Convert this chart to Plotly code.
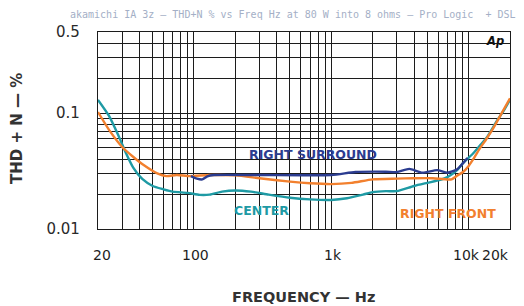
import numpy as np
import plotly.graph_objects as go

# ---------------- data ----------------
center_f = [20, 24, 28, 32, 36, 42, 50, 60, 70, 90, 110, 130, 160, 200, 260, 350, 500, 700,
            1000, 1300, 1700, 2000, 2500, 3000, 4000, 5000, 6200, 7000, 8200, 9100, 10800,
            12000, 13600, 16000, 18000, 20000]
center_v = [0.13, 0.095, 0.065, 0.045, 0.034, 0.027, 0.0235, 0.022, 0.021, 0.0205, 0.0197,
            0.0198, 0.021, 0.0215, 0.021, 0.0198, 0.0186, 0.018, 0.0178, 0.0184, 0.0198,
            0.0208, 0.0212, 0.0212, 0.0235, 0.025, 0.0265, 0.028, 0.032, 0.037, 0.045,
            0.052, 0.062, 0.085, 0.105, 0.13]

front_f = [20, 24, 30, 36, 43, 54, 63, 75, 93, 130, 200, 300, 500, 700, 1000, 1400, 2000,
           3000, 4000, 5500, 7500, 8300, 9100, 10000, 10800, 12000, 13500, 15000, 17000, 20000]
front_v = [0.102, 0.072, 0.051, 0.042, 0.0356, 0.0302, 0.0286, 0.0292, 0.0286, 0.0292,
           0.029, 0.0274, 0.0256, 0.0248, 0.0244, 0.025, 0.0268, 0.0272, 0.0274, 0.0274,
           0.0268, 0.029, 0.031, 0.035, 0.040, 0.049, 0.060, 0.073, 0.095, 0.134]

surround_f = [95, 105, 115, 125, 140, 300, 1000, 1500, 2500, 3000, 3700, 4600, 5900, 7000,
              8200, 9100, 9800]
surround_v = [0.0286, 0.0272, 0.0268, 0.0285, 0.0292, 0.0292, 0.0292, 0.031, 0.0312, 0.031,
              0.033, 0.0306, 0.0322, 0.0306, 0.0326, 0.037, 0.041]

x_grid = [20, 30, 40, 50, 60, 70, 80, 90, 100, 200, 300, 400, 500, 600, 700, 800, 900,
          1000, 2000, 3000, 4000, 5000, 6000, 7000, 8000, 9000, 10000, 20000]
x_label_vals = [20, 100, 1000, 10000, 20000]
x_label_text = ["20", "100", "1k", "10k", "20k"]

y_grid = [0.01, 0.02, 0.03, 0.04, 0.05, 0.06, 0.07, 0.08, 0.09, 0.1, 0.2, 0.3, 0.4, 0.5]
y_label_vals = [0.01, 0.1, 0.5]
y_label_text = ["0.01", "0.1", "0.5"]

series_names = ["RIGHT SURROUND", "CENTER", "RIGHT FRONT"]

title_text = "akamichi IA 3z \u2014 THD+N % vs Freq Hz at 80 W into 8 ohms \u2014 Pro Logic  + DSL"
x_title = "FREQUENCY \u2014 Hz"
y_title = "THD + N \u2014 %"

# ---------------- style ----------------
W, H = 524, 306
L, R, T, B = 98, 14, 32, 77
PW, PH = W - L - R, H - T - B
BLUE = "#2b3c90"
TEAL = "#1e9aa4"
ORANGE = "#f2802e"
GRID = "#1c1c1c"
FONT = "DejaVu Sans"


def px(xp):
    return (xp - L) / PW


def py(yp):
    return (H - B - yp) / PH


def label(xp, yp, text, size, color, bold=False, angle=0, family=FONT):
    fig.add_annotation(x=px(xp), y=py(yp), xref="paper", yref="paper",
                       xanchor="center", yanchor="middle",
                       text=("<b>%s</b>" % text) if bold else text, textangle=angle,
                       showarrow=False, font=dict(family=family, size=size, color=color))


fig = go.Figure()
fig.add_trace(go.Scatter(x=center_f, y=center_v, mode="lines", name=series_names[1],
                         line=dict(color=TEAL, width=2.4, shape="spline", smoothing=0.6)))
fig.add_trace(go.Scatter(x=front_f, y=front_v, mode="lines", name=series_names[2],
                         line=dict(color=ORANGE, width=2.4, shape="spline", smoothing=0.6)))
fig.add_trace(go.Scatter(x=surround_f, y=surround_v, mode="lines", name=series_names[0],
                         line=dict(color=BLUE, width=2.4, shape="spline", smoothing=0.6)))

x_ticktext = [""] * len(x_grid)
y_ticktext = [y_label_text[y_label_vals.index(v)] if v in y_label_vals else "" for v in y_grid]

fig.update_layout(
    width=W, height=H,
    margin=dict(l=L, r=R, t=T, b=B),
    paper_bgcolor="white", plot_bgcolor="white",
    showlegend=False,
    xaxis=dict(type="log", range=[np.log10(20), np.log10(20000)],
               tickvals=x_grid, ticktext=x_ticktext, showgrid=True,
               gridcolor=GRID, gridwidth=1.4, zeroline=False,
               showline=True, linecolor=GRID, linewidth=1.4, mirror=True, ticks=""),
    yaxis=dict(type="log", range=[np.log10(0.01), np.log10(0.5)],
               tickvals=y_grid, ticktext=y_ticktext, showgrid=True,
               gridcolor=GRID, gridwidth=1.4, zeroline=False,
               showline=True, linecolor=GRID, linewidth=1.4, mirror=True, ticks="",
               ticklabelstandoff=14,
               tickfont=dict(family=FONT, size=15, color="#2a2a2a")),
)

# white label backgrounds (between grid and traces)
boxes = [(245, 146, 385, 161), (227, 198, 298, 221), (395, 200, 503, 224), (483, 33, 508, 51)]
for x0, y0, x1, y1 in boxes:
    fig.add_shape(type="rect", xref="paper", yref="paper", x0=px(x0), x1=px(x1),
                  y0=py(y1), y1=py(y0), fillcolor="white", line=dict(width=0),
                  layer="between")

# x tick labels
x_shift = {20: 4, 100: 2, 1000: 2, 10000: -2, 20000: -15}
for v, t in zip(x_label_vals, x_label_text):
    fig.add_annotation(x=np.log10(v), xref="x", y=0, yref="paper", yanchor="top",
                       xanchor="center", yshift=-16, xshift=x_shift[v], text=t,
                       showarrow=False, font=dict(family=FONT, size=14, color="#1e1e1e"))

# curve labels
label(313, 154, series_names[0], 12.5, BLUE, bold=True)
label(261, 210, series_names[1], 12.5, TEAL, bold=True)
label(448, 213, series_names[2], 12.5, ORANGE, bold=True)

# Ap logo
label(495, 41, "<i>Ap</i>", 11.5, "#111", bold=True)

# title
label(293, 14.5, title_text, 10, "#a4afc6", family="DejaVu Sans Mono")

# axis titles
label(303, 297, x_title, 14.5, "#333333", bold=True)
label(17, 129, y_title, 15, "#333333", bold=True, angle=-90)

fig.write_html("out.html", config={"displayModeBar": False},
               post_script="document.body.style.margin='0';")
